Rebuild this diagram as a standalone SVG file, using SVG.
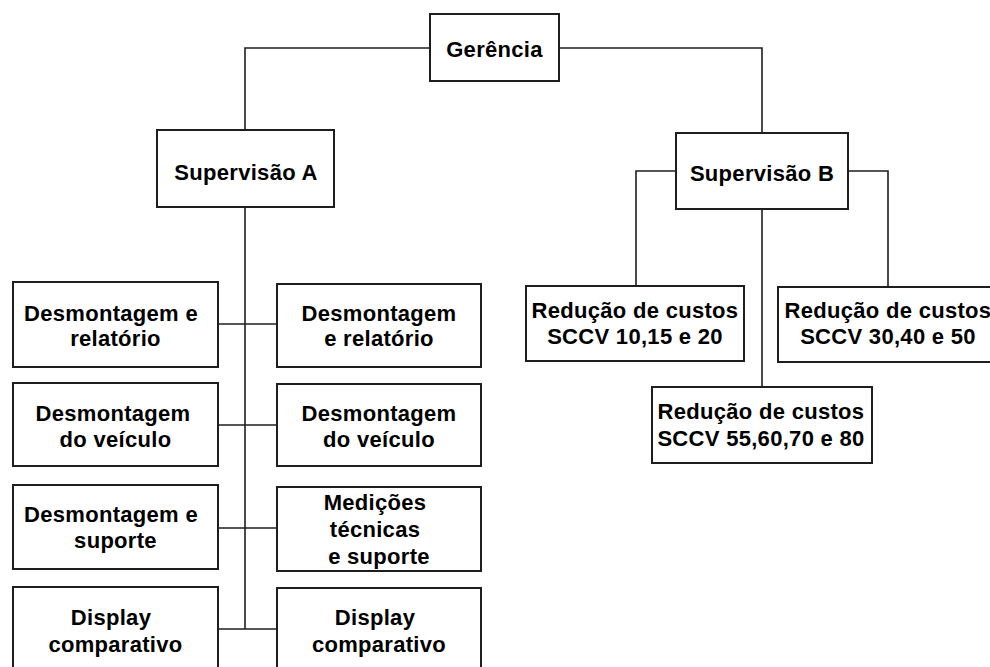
<svg xmlns="http://www.w3.org/2000/svg" width="990" height="667" viewBox="0 0 990 667">
<style>
.box{fill:#fff;stroke:#1e1e1e;stroke-width:2}
.con{fill:none;stroke:#1e1e1e;stroke-width:1.6}
text{font-family:"Liberation Sans",Arial,sans-serif;font-weight:bold;font-size:22px;fill:#000;text-anchor:middle;letter-spacing:0.3px}
</style>
<rect width="990" height="667" fill="#fff"/>
<g id="connectors">
<polyline class="con" points="430,48 245,48 245,130"/>
<polyline class="con" points="560,48 762,48 762,133"/>
<polyline class="con" points="676,171 636,171 636,286"/>
<polyline class="con" points="848,171 888,171 888,287"/>
<line class="con" x1="762" y1="209" x2="762" y2="387"/>
<line class="con" x1="245" y1="207" x2="245" y2="629"/>
<line class="con" x1="218" y1="324" x2="277" y2="324"/>
<line class="con" x1="218" y1="425" x2="277" y2="425"/>
<line class="con" x1="218" y1="528" x2="277" y2="528"/>
<line class="con" x1="218" y1="629" x2="277" y2="629"/>
</g>
<g id="gerencia"><rect class="box" x="430" y="14" width="129" height="67"/><text x="494.5" y="57">Gerência</text></g>
<g id="supA"><rect class="box" x="157" y="130" width="177" height="77"/><text x="246" y="180">Supervisão A</text></g>
<g id="supB"><rect class="box" x="676" y="133" width="172" height="76"/><text x="762" y="181">Supervisão B</text></g>
<g id="red1"><rect class="box" x="526" y="286" width="218" height="75"/><text x="635" y="318">Redução de custos</text><text x="635" y="344">SCCV 10,15 e 20</text></g>
<g id="red2"><rect class="box" x="778" y="287" width="220" height="75"/><text x="888" y="318">Redução de custos</text><text x="888" y="344">SCCV 30,40 e 50</text></g>
<g id="red3"><rect class="box" x="652" y="387" width="220" height="76"/><text x="761" y="419">Redução de custos</text><text x="761" y="446">SCCV 55,60,70 e 80</text></g>
<g id="l1"><rect class="box" x="13" y="282" width="205" height="85"/><text x="111" y="321">Desmontagem e</text><text x="115.5" y="346">relatório</text></g>
<g id="r1"><rect class="box" x="277" y="284" width="204" height="83"/><text x="379" y="321">Desmontagem</text><text x="379" y="346">e relatório</text></g>
<g id="l2"><rect class="box" x="13" y="383" width="205" height="83"/><text x="113" y="421">Desmontagem</text><text x="115.5" y="447">do veículo</text></g>
<g id="r2"><rect class="box" x="277" y="384" width="204" height="82"/><text x="379" y="421">Desmontagem</text><text x="379" y="447">do veículo</text></g>
<g id="l3"><rect class="box" x="13" y="485" width="205" height="84"/><text x="111" y="522">Desmontagem e</text><text x="115.5" y="548">suporte</text></g>
<g id="r3"><rect class="box" x="277" y="487" width="204" height="84"/><text x="375" y="510">Medições</text><text x="375" y="537">técnicas</text><text x="379" y="564">e suporte</text></g>
<g id="l4"><rect class="box" x="13" y="587" width="205" height="100"/><text x="111" y="625">Display</text><text x="115.5" y="652">comparativo</text></g>
<g id="r4"><rect class="box" x="277" y="588" width="204" height="100"/><text x="375" y="625">Display</text><text x="379" y="652">comparativo</text></g>
</svg>
